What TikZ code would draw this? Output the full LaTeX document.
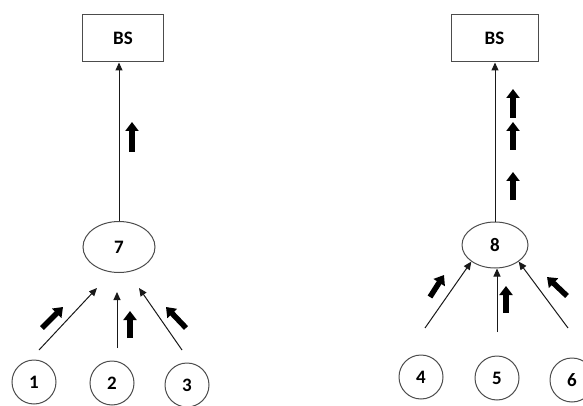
\documentclass[tikz,border=0pt]{standalone}
\usepackage{fontspec}
\setmainfont{Carlito}
\usetikzlibrary{arrows.meta,shapes.geometric}
\begin{document}
\begin{tikzpicture}[x=1pt,y=-1pt,
  every node/.style={font=\fontsize{19}{21}\selectfont\bfseries, text=black},
  station/.style={draw=black!70, line width=1pt, rectangle, minimum width=81pt, minimum height=47pt},
  head/.style={draw=black!70, line width=1pt, ellipse},
  member/.style={draw=black!70, line width=1pt, circle, minimum size=44pt, inner sep=0pt},
  link/.style={draw=black!90, line width=1pt, -{Triangle[length=8pt,width=7pt]}},
  flow/.style={draw=black, line width=5.5pt, -{Triangle[length=9pt,width=13pt]}}
]
\useasboundingbox (0,0) rectangle (583,406);

% ---- left cluster ----
\node[station] (bsL) at (123,38.5) {BS};
\node[head, minimum width=72pt, minimum height=51pt] (e7) at (119,247) {7};
\node[member] (n1) at (34,382) {1};
\node[member] (n2) at (112,383) {2};
\node[member] (n3) at (187,385) {3};

\draw[link] (e7.north) -- (e7.north |- bsL.south);

\coordinate (a1s) at (39,350);  \coordinate (a1e) at (97,288);
\coordinate (a2s) at (117,348); \coordinate (a2e) at (117,292);
\coordinate (a3s) at (182,350); \coordinate (a3e) at (139,288);
\draw[link] (a1s) -- (a1e);
\draw[link] (a2s) -- (a2e);
\draw[link] (a3s) -- (a3e);

\draw[flow] (42,328) -- (63,307);
\draw[flow] (130,338) -- (130,311);
\draw[flow] (186,328) -- (166,307);
\draw[flow] (132,152) -- (132,122);

% ---- right cluster ----
\node[station, minimum width=87pt] (bsR) at (494.5,38.5) {BS};
\node[head, minimum width=66pt, minimum height=46pt] (e8) at (495,245) {8};
\node[member] (n4) at (421,377) {4};
\node[member] (n5) at (497,378) {5};
\node[member] (n6) at (572,380) {6};

\draw[link] (e8.north) -- (e8.north |- bsR.south);

\coordinate (b4s) at (425,328); \coordinate (b5s) at (497,332); \coordinate (b6s) at (568,328);
\draw[link] (b4s) -- (e8.south west);
\draw[link] (b5s) -- (e8.south -| b5s);
\draw[link] (b6s) -- (e8.south east);

\draw[flow] (430,297) -- (444,275);
\draw[flow] (506,313) -- (506,286);
\draw[flow] (567,296) -- (547,277);
\draw[flow] (513,118) -- (513,89);
\draw[flow] (513,150) -- (513,122);
\draw[flow] (513,200) -- (513,172);
\end{tikzpicture}
\end{document}
